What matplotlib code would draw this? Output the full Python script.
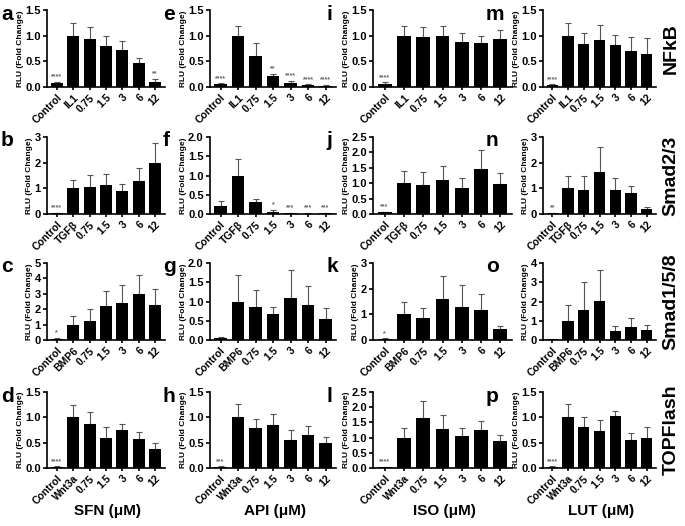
import numpy as np
import matplotlib
matplotlib.use("Agg")
import matplotlib.pyplot as plt

plt.rcParams["font.family"] = ["Liberation Sans", "DejaVu Sans"]
plt.rcParams["font.weight"] = "bold"

# x categories (second label depends on the stimulus of each row)
doses = ["0.75", "1.5", "3", "6", "12"]
stimuli = ["IL1", "TGF\u03b2", "BMP6", "Wnt3a"]
reporters = ["NFkB", "Smad2/3", "Smad1/5/8", "TOPFlash"]
compounds = ["SFN (\u03bcM)", "API (\u03bcM)", "ISO (\u03bcM)", "LUT (\u03bcM)"]

# NFkB row
a_mean = [0.07, 1.0, 0.94, 0.80, 0.73, 0.46, 0.10]
a_sd = [0.03, 0.25, 0.23, 0.20, 0.17, 0.11, 0.06]
a_sig = ["****", "", "", "", "", "", "**"]
e_mean = [0.05, 1.0, 0.60, 0.21, 0.08, 0.03, 0.02]
e_sd = [0.02, 0.19, 0.25, 0.04, 0.04, 0.02, 0.02]
e_sig = ["****", "", "", "**", "****", "****", "****"]
i_mean = [0.06, 1.0, 0.98, 0.99, 0.87, 0.86, 0.94]
i_sd = [0.03, 0.18, 0.18, 0.19, 0.19, 0.13, 0.18]
i_sig = ["****", "", "", "", "", "", ""]
m_mean = [0.03, 1.0, 0.84, 0.92, 0.81, 0.71, 0.64]
m_sd = [0.02, 0.25, 0.21, 0.28, 0.21, 0.27, 0.32]
m_sig = ["****", "", "", "", "", "", ""]

# Smad2/3 row
b_mean = [0.02, 1.0, 1.07, 1.12, 0.88, 1.28, 2.0]
b_sd = [0.01, 0.33, 0.45, 0.45, 0.29, 0.51, 0.77]
b_sig = ["****", "", "", "", "", "", ""]
f_mean = [0.20, 1.0, 0.30, 0.05, 0.02, 0.01, 0.02]
f_sd = [0.15, 0.43, 0.10, 0.05, 0.01, 0.01, 0.01]
f_sig = ["", "", "", "*", "***", "***", "***"]
j_mean = [0.05, 1.0, 0.93, 1.09, 0.84, 1.47, 0.99]
j_sd = [0.03, 0.40, 0.44, 0.47, 0.33, 0.60, 0.34]
j_sig = ["***", "", "", "", "", "", ""]
n_mean = [0.03, 1.0, 0.92, 1.63, 0.93, 0.83, 0.21]
n_sd = [0.02, 0.50, 0.57, 0.99, 0.49, 0.27, 0.07]
n_sig = ["**", "", "", "", "", "", ""]

# Smad1/5/8 row
c_mean = [0.08, 0.98, 1.25, 2.2, 2.4, 3.0, 2.25]
c_sd = [0.04, 0.57, 0.75, 0.95, 1.2, 1.2, 1.03]
c_sig = ["*", "", "", "", "", "", ""]
g_mean = [0.05, 1.0, 0.87, 0.67, 1.08, 0.90, 0.54]
g_sd = [0.02, 0.69, 0.44, 0.18, 0.73, 0.49, 0.29]
g_sig = ["", "", "", "", "", "", ""]
k_mean = [0.04, 1.0, 0.85, 1.60, 1.28, 1.17, 0.41]
k_sd = [0.02, 0.50, 0.41, 0.90, 0.85, 0.63, 0.12]
k_sig = ["*", "", "", "", "", "", ""]
o_mean = [0.04, 0.98, 1.57, 2.04, 0.46, 0.67, 0.52]
o_sd = [0.01, 0.85, 1.45, 1.61, 0.29, 0.45, 0.26]
o_sig = ["", "", "", "", "", "", ""]

# TOPFlash row
d_mean = [0.02, 1.0, 0.87, 0.60, 0.75, 0.57, 0.37]
d_sd = [0.01, 0.25, 0.23, 0.20, 0.12, 0.15, 0.13]
d_sig = ["****", "", "", "", "", "", ""]
h_mean = [0.02, 1.0, 0.78, 0.85, 0.55, 0.65, 0.50]
h_sd = [0.01, 0.27, 0.19, 0.22, 0.20, 0.17, 0.12]
h_sig = ["***", "", "", "", "", "", ""]
l_mean = [0.02, 1.0, 1.65, 1.28, 1.05, 1.25, 0.88]
l_sd = [0.01, 0.30, 0.55, 0.47, 0.25, 0.30, 0.22]
l_sig = ["****", "", "", "", "", "", ""]
p_mean = [0.02, 1.0, 0.80, 0.73, 1.03, 0.55, 0.60]
p_sd = [0.01, 0.27, 0.20, 0.22, 0.09, 0.15, 0.20]
p_sig = ["****", "", "", "", "", "", ""]

# y axis top and tick step per panel
a_ylim, e_ylim, i_ylim, m_ylim = (1.5, 0.5), (1.5, 0.5), (1.5, 0.5), (1.5, 0.5)
b_ylim, f_ylim, j_ylim, n_ylim = (3, 1), (2.0, 0.5), (2.5, 0.5), (3, 1)
c_ylim, g_ylim, k_ylim, o_ylim = (5, 1), (2.0, 0.5), (3, 1), (4, 1)
d_ylim, h_ylim, l_ylim, p_ylim = (1.5, 0.5), (1.5, 0.5), (2.5, 0.5), (1.5, 0.5)

panels = [
    [("a", a_mean, a_sd, a_sig, a_ylim), ("e", e_mean, e_sd, e_sig, e_ylim),
     ("i", i_mean, i_sd, i_sig, i_ylim), ("m", m_mean, m_sd, m_sig, m_ylim)],
    [("b", b_mean, b_sd, b_sig, b_ylim), ("f", f_mean, f_sd, f_sig, f_ylim),
     ("j", j_mean, j_sd, j_sig, j_ylim), ("n", n_mean, n_sd, n_sig, n_ylim)],
    [("c", c_mean, c_sd, c_sig, c_ylim), ("g", g_mean, g_sd, g_sig, g_ylim),
     ("k", k_mean, k_sd, k_sig, k_ylim), ("o", o_mean, o_sd, o_sig, o_ylim)],
    [("d", d_mean, d_sd, d_sig, d_ylim), ("h", h_mean, h_sd, h_sig, h_ylim),
     ("l", l_mean, l_sd, l_sig, l_ylim), ("p", p_mean, p_sd, p_sig, p_ylim)],
]

W, H = 685, 526
col_px = [(47, 165), (210, 336), (373, 512), (543, 656)]
row_px = [(10, 87), (137, 214), (263, 340), (392, 468)]
letter_x = [1, 163, 326, 486]

fig = plt.figure(figsize=(W / 100, H / 100), dpi=100)

for r, row in enumerate(panels):
    for c, (letter, mean, sd, sig, (ytop, ystep)) in enumerate(row):
        x0, x1 = col_px[c]
        y0, y1 = row_px[r]
        ax = fig.add_axes([x0 / W, 1 - y1 / H, (x1 - x0) / W, (y1 - y0) / H])
        x = np.arange(len(mean))
        ax.bar(x, mean, width=0.72, color="black", zorder=2)
        ax.errorbar(x, mean, yerr=[np.zeros(len(sd)), sd], fmt="none",
                    ecolor="#555555", elinewidth=0.8, capsize=2.5,
                    capthick=0.8, zorder=1)
        for xi, m, s, t in zip(x, mean, sd, sig):
            if t:
                ax.text(xi, m + s + ytop * 0.02, t, ha="center", va="bottom",
                        fontsize=5, color="#666666")
        ax.set_xlim(-0.6, len(mean) - 0.4)
        ax.set_ylim(0, ytop)
        ticks = np.arange(0, ytop + 1e-9, ystep)
        ax.set_yticks(ticks)
        if ystep < 1:
            ax.set_yticklabels([f"{v:.1f}" for v in ticks])
        else:
            ax.set_yticklabels([f"{v:g}" for v in ticks])
        ax.set_xticks(x)
        ax.set_xticklabels(["Control", stimuli[r]] + doses, rotation=45,
                           ha="right", rotation_mode="anchor", fontsize=7.5,
                           fontweight="bold")
        ax.tick_params(axis="y", labelsize=8, width=1.2, length=3, pad=1.5)
        ax.tick_params(axis="x", width=1.2, length=2, pad=2)
        for lab in ax.get_yticklabels():
            lab.set_fontweight("bold")
        ax.spines["top"].set_visible(False)
        ax.spines["right"].set_visible(False)
        ax.spines["left"].set_linewidth(1.2)
        ax.spines["bottom"].set_linewidth(1.2)
        ax.set_ylabel("RLU (Fold Change)", fontsize=6, fontweight="bold",
                      labelpad=1)
        fig.text(letter_x[c] / W, 1 - (y0 + 4) / H, letter, fontsize=15,
                 fontweight="bold", va="center", ha="left")

for r, name in enumerate(reporters):
    y0, y1 = row_px[r]
    fig.text(671 / W, 1 - ((y0 + y1) / 2) / H, name, rotation=90,
             fontsize=14, fontweight="bold", ha="center", va="center")

for c, name in enumerate(compounds):
    x0, x1 = col_px[c]
    fig.text(((x0 + x1) / 2 + 2) / W, 1 - 511 / H, name, fontsize=11,
             fontweight="bold", ha="center", va="center")

fig.savefig("out.png", dpi=100)
